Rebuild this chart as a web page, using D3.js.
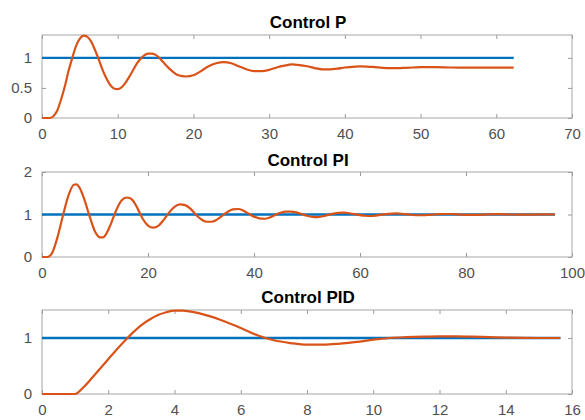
<!DOCTYPE html>
<style>
    body { margin: 0; background: #fff; }
    svg text { font-family: "Liberation Sans", Arial, sans-serif; }
</style>
<svg width="585" height="420"></svg>
<script src="https://d3js.org/d3.v7.min.js"></script>
<script>
    // ---- data ----
    var titles = ["Control P", "Control PI", "Control PID"];

    var pTime = [0, 1, 1.5, 2, 2.5, 3, 3.5, 4, 4.5, 5, 5.5, 6, 6.5, 7, 7.5, 8, 8.5, 9, 9.5, 10, 10.5, 11, 11.5, 12, 12.5, 13, 13.5, 14, 14.5, 15, 15.5, 16, 17, 18, 19, 20, 21, 22, 23, 24, 25, 26, 27, 28, 29, 30, 31, 32, 33, 34, 35, 36, 37, 38, 39, 40, 41, 42, 43, 44, 45, 46, 47, 48, 49, 50, 52, 54, 56, 58, 60, 62.3];
    var pOut = [0, 0, 0.03, 0.12, 0.3, 0.52, 0.78, 1.0, 1.2, 1.32, 1.37, 1.35, 1.27, 1.13, 0.97, 0.8, 0.66, 0.55, 0.49, 0.48, 0.51, 0.58, 0.68, 0.79, 0.9, 0.98, 1.04, 1.07, 1.07, 1.05, 1.0, 0.93, 0.8, 0.71, 0.69, 0.71, 0.78, 0.86, 0.91, 0.93, 0.91, 0.86, 0.81, 0.78, 0.78, 0.8, 0.84, 0.87, 0.89, 0.88, 0.86, 0.83, 0.81, 0.81, 0.82, 0.84, 0.85, 0.86, 0.855, 0.845, 0.835, 0.83, 0.83, 0.835, 0.84, 0.845, 0.845, 0.84, 0.838, 0.838, 0.837, 0.837];

    var piTime = [0, 1, 1.5, 2, 3, 4, 5, 6, 6.5, 7, 8, 9, 10, 11, 11.5, 12, 13, 14, 15, 16, 16.5, 17, 18, 19, 20, 21, 22, 23, 24, 25, 26, 27, 28, 29, 30, 31, 32, 33, 34, 35, 36, 37, 38, 39, 40, 41, 42, 43, 44, 45, 46, 47, 48, 49, 50, 51, 52, 53, 54, 55, 56, 57, 58, 59, 60, 61, 62, 63, 64, 65, 66, 67, 68, 69, 70, 71, 72, 73, 74, 75, 76, 77, 78, 79, 80, 81, 82, 84, 86, 88, 90, 92, 94, 96.8];
    var piOut = [0, 0, 0.03, 0.12, 0.5, 1.0, 1.45, 1.7, 1.71, 1.65, 1.35, 0.95, 0.6, 0.46, 0.46, 0.52, 0.78, 1.1, 1.33, 1.4, 1.39, 1.35, 1.15, 0.9, 0.74, 0.69, 0.74, 0.88, 1.05, 1.18, 1.24, 1.22, 1.14, 1.0, 0.89, 0.83, 0.83, 0.88, 0.97, 1.06, 1.12, 1.13, 1.09, 1.02, 0.95, 0.91, 0.9, 0.93, 0.99, 1.04, 1.07, 1.07, 1.05, 1.01, 0.97, 0.945, 0.94, 0.96, 0.99, 1.02, 1.04, 1.045, 1.03, 1.01, 0.985, 0.97, 0.965, 0.975, 0.995, 1.01, 1.022, 1.025, 1.015, 1.0, 0.988, 0.982, 0.983, 0.99, 1.0, 1.008, 1.012, 1.012, 1.006, 0.999, 0.993, 0.991, 0.992, 1.003, 1.007, 1.002, 0.997, 0.997, 1.001, 1.0];

    var pidTime = [0, 1, 1.25, 1.5, 1.75, 2, 2.25, 2.5, 2.75, 3, 3.25, 3.5, 3.75, 4, 4.25, 4.5, 5, 5.5, 6, 6.5, 7, 7.5, 8, 8.5, 9, 9.5, 10, 10.5, 11, 11.5, 12, 12.5, 13, 13.5, 14, 14.5, 15, 15.65];
    var pidOut = [0, 0, 0.12, 0.28, 0.45, 0.62, 0.79, 0.95, 1.1, 1.23, 1.33, 1.41, 1.46, 1.49, 1.49, 1.47, 1.4, 1.3, 1.18, 1.05, 0.96, 0.91, 0.88, 0.88, 0.9, 0.93, 0.97, 1.0, 1.015, 1.025, 1.03, 1.03, 1.025, 1.015, 1.008, 1.002, 1.0, 1.0];

    var setpoint = 1;
    var xMax = [70, 100, 16];
    var yMax = [1.38, 2, 1.5];
    var xTicks = [d3.range(0, 71, 10), d3.range(0, 101, 20), d3.range(0, 17, 2)];
    var yTicks = [[0, 0.5, 1], [0, 1, 2], [0, 1]];

    var panels = [
        { time: pTime, out: pOut, top: 35, bottom: 118, titleY: 28 },
        { time: piTime, out: piOut, top: 172, bottom: 257, titleY: 166 },
        { time: pidTime, out: pidOut, top: 310, bottom: 394, titleY: 303 }
    ];

    var svg = d3.select("svg"),
        left = 42, right = 572;

    panels.forEach(function (p, i) {
        var x = d3.scaleLinear().domain([0, xMax[i]]).range([left, right]);
        var y = d3.scaleLinear().domain([0, yMax[i]]).range([p.bottom, p.top]);
        var g = svg.append("g");
        var fmt = function (v) { return String(v); };

        // ticks (inward, both sides) like matlab
        var xAxB = d3.axisBottom(x).tickValues(xTicks[i]).tickFormat(fmt).tickSizeInner(-4).tickSizeOuter(0).tickPadding(10);
        var xAxT = d3.axisTop(x).tickValues(xTicks[i]).tickSizeInner(-4).tickSizeOuter(0).tickFormat("");
        var yAxL = d3.axisLeft(y).tickValues(yTicks[i]).tickFormat(fmt).tickSizeInner(-4).tickSizeOuter(0).tickPadding(10);
        var yAxR = d3.axisRight(y).tickValues(yTicks[i]).tickSizeInner(-4).tickSizeOuter(0).tickFormat("");

        g.append("g").attr("transform", "translate(0," + p.bottom + ")").call(xAxB);
        g.append("g").attr("transform", "translate(0," + p.top + ")").call(xAxT);
        g.append("g").attr("transform", "translate(" + left + ",0)").call(yAxL);
        g.append("g").attr("transform", "translate(" + right + ",0)").call(yAxR);

        g.selectAll(".domain").remove();
        g.selectAll(".tick line").attr("stroke", "#9a9a9a");
        g.selectAll(".tick text")
            .attr("fill", "#505050")
            .style("font-size", "15px");

        g.append("rect")
            .attr("x", left).attr("y", p.top)
            .attr("width", right - left).attr("height", p.bottom - p.top)
            .attr("fill", "none")
            .attr("stroke", "#a6a6a6")
            .attr("stroke-width", 1);

        var line = d3.line()
            .x(function (d) { return x(d[0]); })
            .y(function (d) { return y(d[1]); })
            .curve(d3.curveMonotoneX);

        var tEnd = p.time[p.time.length - 1];
        g.append("path")
            .datum([[0, setpoint], [tEnd, setpoint]])
            .attr("fill", "none")
            .attr("stroke", "#0072BD")
            .attr("stroke-width", 2.4)
            .attr("d", line);

        g.append("path")
            .datum(p.time.map(function (t, k) { return [t, p.out[k]]; }))
            .attr("fill", "none")
            .attr("stroke", "#D95319")
            .attr("stroke-width", 2.2)
            .attr("stroke-linejoin", "round")
            .attr("d", line);

        svg.append("text")
            .attr("x", (left + right) / 2 + 1)
            .attr("y", p.titleY)
            .attr("text-anchor", "middle")
            .style("font-size", "17px")
            .style("font-weight", "bold")
            .attr("fill", "#000")
            .text(titles[i]);
    });
</script>
